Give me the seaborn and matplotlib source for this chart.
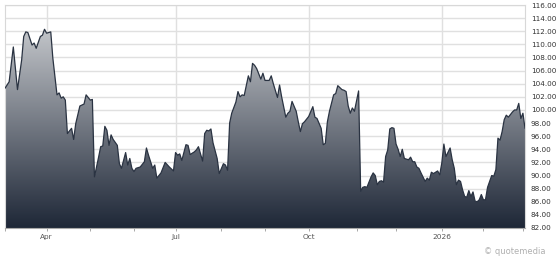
import numpy as np
import pandas as pd
import matplotlib
matplotlib.use("Agg")
import matplotlib.pyplot as plt
from matplotlib.colors import LinearSegmentedColormap
import seaborn as sns

# ---- data (trading-day index from 2025-03-04, closing price) ----
day_index = [
    0, 2, 4, 6, 8, 9, 10, 11, 13, 14, 15, 17, 18, 19, 20, 22, 23, 25, 26, 27,
    28, 29, 30, 32, 33, 34, 36, 38, 39, 41, 42, 43, 45, 46, 47, 48, 49, 50, 51, 52,
    54, 55, 56, 58, 59, 60, 61, 62, 63, 65, 67, 68, 69, 71, 72, 73, 75, 76, 77, 79,
    80, 81, 82, 83, 84, 85, 87, 88, 89, 91, 92, 93, 95, 96, 97, 98, 99, 100, 102, 103,
    105, 106, 107, 108, 109, 111, 112, 113, 114, 115, 117, 118, 119, 120, 121, 123, 124, 125, 127, 128,
    129, 131, 132, 133, 135, 136, 137, 138, 140, 141, 142, 143, 144, 146, 148, 149, 150, 152, 153, 154,
    155, 156, 158, 159, 160, 162, 163, 164, 165, 166, 167, 168, 170, 171, 172, 173, 174, 176, 177, 178,
    179, 180, 181, 182, 183, 184, 185, 186, 187, 188, 189, 190, 191, 192, 194, 195, 196, 197, 198, 199,
    200, 202, 203, 204, 205, 206, 208, 209, 210, 211, 212, 214, 215, 216, 217, 218, 219, 220, 221, 222,
    223, 224, 225, 226, 227, 228, 229, 230, 231, 232, 233, 234, 235, 236, 237, 238, 239, 240, 241, 242,
    244, 245, 246, 247, 248, 249, 250,
]
price = [
    103.3, 104.3, 109.6, 103.1, 107.6, 111.2, 111.9, 111.8, 109.9, 110.2, 109.4, 111.2, 111.4, 112.3, 111.7, 111.9, 107.9, 102.3, 102.6, 101.8,
    102.0, 101.5, 96.4, 97.2, 95.5, 97.9, 100.6, 100.9, 102.3, 101.5, 101.6, 89.8, 92.8, 94.4, 94.5, 97.5, 96.9, 94.6, 96.2, 95.5,
    94.6, 91.8, 91.1, 93.5, 91.6, 92.6, 91.1, 90.6, 91.1, 91.3, 92.1, 94.2, 93.1, 91.1, 91.6, 89.6, 90.4, 91.2, 92.0, 91.3,
    91.0, 90.7, 93.5, 93.1, 93.3, 92.3, 94.7, 94.6, 93.2, 93.6, 93.9, 94.4, 92.2, 96.4, 96.9, 96.8, 97.1, 95.0, 92.6, 90.3,
    91.8, 91.6, 90.8, 98.0, 99.5, 101.2, 102.8, 102.0, 102.3, 102.2, 105.2, 104.3, 107.1, 106.8, 106.3, 104.7, 105.6, 104.5, 104.5, 105.2,
    104.0, 101.9, 103.8, 102.0, 98.9, 99.5, 99.8, 101.3, 99.8, 98.2, 96.7, 97.9, 98.2, 99.0, 100.5, 98.9, 98.7, 97.2, 94.7, 94.9,
    98.2, 99.8, 102.3, 102.5, 103.7, 103.1, 103.0, 102.8, 100.6, 99.5, 100.3, 99.8, 102.9, 87.6, 88.2, 88.3, 88.2, 89.8, 90.4, 90.0,
    88.6, 89.1, 89.2, 89.0, 92.9, 93.9, 97.1, 97.3, 97.2, 94.8, 94.0, 92.9, 94.0, 92.6, 92.4, 92.8, 92.1, 92.1, 91.3, 91.1,
    90.4, 89.1, 89.6, 89.3, 90.5, 90.3, 90.7, 90.1, 91.9, 94.8, 92.9, 94.2, 92.4, 91.1, 88.6, 89.3, 89.1, 87.8, 86.8, 86.7,
    87.7, 86.8, 87.5, 86.1, 86.0, 86.3, 87.1, 86.3, 86.3, 88.2, 89.1, 90.0, 89.9, 90.9, 95.7, 95.4, 96.7, 98.5, 99.2, 98.9,
    99.7, 100.0, 100.0, 101.0, 98.7, 99.5, 97.2,
]
start_date = "2025-03-04"
end_date = "2026-03-03"
market_holidays = ["2025-04-18", "2025-05-26", "2025-06-19", "2025-07-04", "2025-09-01",
                   "2025-11-27", "2025-12-25", "2026-01-01", "2026-01-19", "2026-02-16"]
y_ticks = list(range(82, 117, 2))
labeled_months = {4: "Apr", 7: "Jul", 10: "Oct"}
watermark = "\u00a9 quotemedia"

# ---- trading calendar ----
days = pd.bdate_range(start_date, end_date)
days = days[~days.isin(pd.to_datetime(market_holidays))]
month_starts = [i for i in range(1, len(days)) if days[i].month != days[i - 1].month]
major_pos, major_lab, minor_pos = [], [], [0]
for i in month_starts:
    m = days[i].month
    if m == 1:
        major_pos.append(i); major_lab.append(str(days[i].year))
    elif m in labeled_months:
        major_pos.append(i); major_lab.append(labeled_months[m])
    else:
        minor_pos.append(i)

df = pd.DataFrame({"idx": day_index, "price": price})

sns.set_style("white")
fig = plt.figure(figsize=(5.57, 2.57), dpi=100)
ax = fig.add_axes([5 / 557, 29 / 257, 520 / 557, 223 / 257])

ymin, ymax = 82, 116
xmax = len(days) - 1

# gradient area
poly = ax.fill_between(df["idx"], df["price"], ymin, color="none", lw=0)
cmap = LinearSegmentedColormap.from_list("g", ["#1e2737", "#d6d8db"])
grad = np.linspace(0, 1, 256).reshape(-1, 1)
im = ax.imshow(grad, extent=[0, xmax, ymin, ymax], origin="lower", aspect="auto",
               cmap=cmap, zorder=1, interpolation="bilinear")
im.set_clip_path(poly.get_paths()[0], transform=ax.transData)

sns.lineplot(data=df, x="idx", y="price", ax=ax, color="#2a3342", linewidth=0.9, zorder=3)

ax.set_xlim(0, xmax)
ax.set_ylim(ymin, ymax)
ax.set_xlabel("")
ax.set_ylabel("")

# y axis on right
ax.yaxis.tick_right()
ax.set_yticks(y_ticks)
ax.set_yticklabels([f"{v:.2f}" for v in y_ticks])
ax.tick_params(axis="y", which="both", length=0, pad=4.3, labelsize=5.2, labelcolor="#333333")

# x axis
ax.set_xticks(major_pos)
ax.set_xticklabels(major_lab)
ax.set_xticks(minor_pos, minor=True)
ax.tick_params(axis="x", which="both", length=2.2, width=0.6, color="#9a9a9a",
               pad=2.2, labelsize=5.3, labelcolor="#555555", direction="out", bottom=True)

ax.grid(axis="y", color="#e0e0e0", linewidth=1.0, zorder=0)
ax.grid(axis="x", which="major", color="#e0e0e0", linewidth=1.0, zorder=0)
ax.set_axisbelow(True)

for s in ["left", "right", "top"]:
    ax.spines[s].set_visible(True)
    ax.spines[s].set_color("#d8d8d8")
    ax.spines[s].set_linewidth(0.8)
ax.spines["bottom"].set_color("#a8a8a8")
ax.spines["bottom"].set_linewidth(0.8)

fig.text(545 / 557, 5 / 257, watermark, ha="right", va="center", fontsize=6,
         color="#b0b0b0")

fig.savefig("out.png", dpi=100)
